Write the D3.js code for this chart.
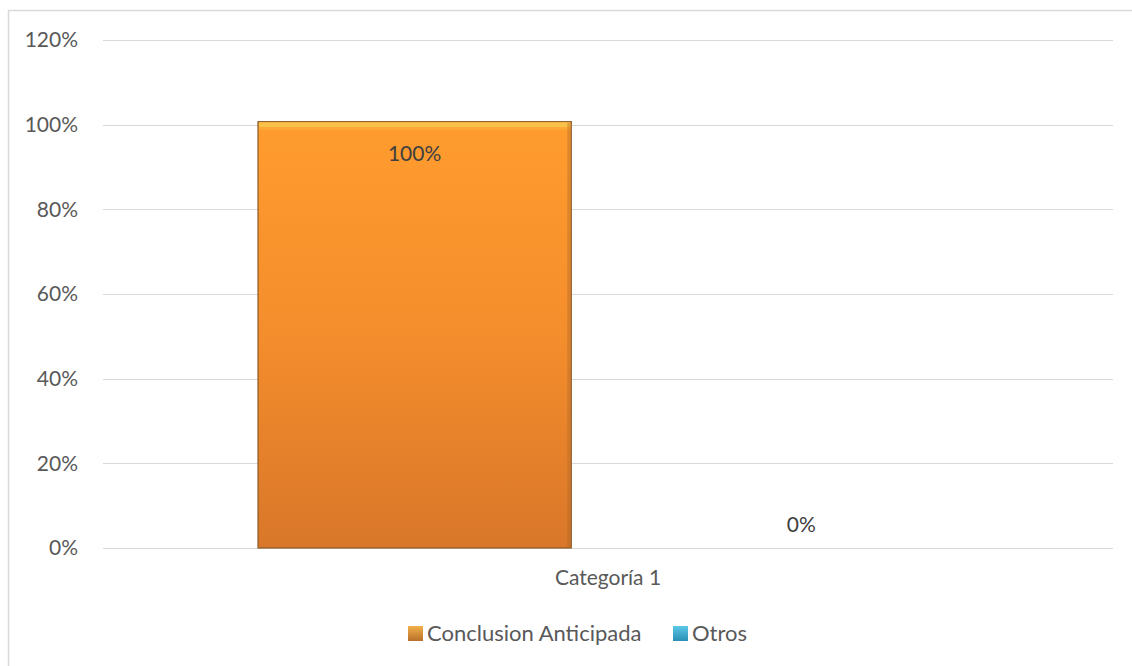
<!DOCTYPE html>
<html>
<head>
<meta charset="utf-8">
<script src="https://cdn.jsdelivr.net/npm/d3@7"></script>
<style>
  html, body { margin: 0; padding: 0; background: #fff; }
  svg { display: block; font-family: Lato, "Open Sans", sans-serif; }
</style>
</head>
<body>
<svg id="chart" width="1132" height="666"></svg>
<script>
// Chart data
const categories = ["Categoría 1"];
const seriesNames = ["Conclusion Anticipada", "Otros"];
const seriesValues = [[1.00], [0.00]];
const yTicks = [0, 0.2, 0.4, 0.6, 0.8, 1.0, 1.2];

const svg = d3.select("#chart");
const W = 1132, H = 666;
const FS = 21;
const margin = { left: 103, right: 19, top: 40, bottom: 118 };
const plotW = W - margin.left - margin.right;
const plotH = H - margin.top - margin.bottom;

const defs = svg.append("defs");
const orange = defs.append("linearGradient").attr("id", "gOrange")
  .attr("x1", 0).attr("y1", 0).attr("x2", 0).attr("y2", 1);
orange.append("stop").attr("offset", "0%").attr("stop-color", "#ff9c2e");
orange.append("stop").attr("offset", "50%").attr("stop-color", "#f48d2c");
orange.append("stop").attr("offset", "100%").attr("stop-color", "#d9772a");
const blue = defs.append("linearGradient").attr("id", "gBlue")
  .attr("x1", 0).attr("y1", 0).attr("x2", 0).attr("y2", 1);
blue.append("stop").attr("offset", "0%").attr("stop-color", "#5cc7e6");
blue.append("stop").attr("offset", "100%").attr("stop-color", "#2a8fb5");
const sw1 = defs.append("linearGradient").attr("id", "gSw1")
  .attr("x1", 0).attr("y1", 0).attr("x2", 0).attr("y2", 1);
sw1.append("stop").attr("offset", "0%").attr("stop-color", "#f2b04a");
sw1.append("stop").attr("offset", "100%").attr("stop-color", "#b8702a");
const fills = ["url(#gOrange)", "url(#gBlue)"];
const swatchFills = ["url(#gSw1)", "url(#gBlue)"];

// Outer chart frame (left and top edges visible)
svg.append("line").attr("x1", 8.5).attr("x2", 8.5).attr("y1", 10).attr("y2", H)
  .attr("stroke", "#d9d9d9").attr("stroke-width", 1.5);
svg.append("line").attr("x1", 8).attr("x2", W).attr("y1", 10.5).attr("y2", 10.5)
  .attr("stroke", "#d9d9d9").attr("stroke-width", 1.5);

const g = svg.append("g").attr("transform", `translate(${margin.left},${margin.top})`);

const y = d3.scaleLinear().domain([0, 1.2]).range([plotH, 0]);
const x0 = d3.scaleBand().domain(categories).range([0, plotW]).paddingInner(0).paddingOuter(0);
const x1 = d3.scaleBand().domain(seriesNames).range([155, x0.bandwidth() - 155]).paddingInner(0.19).paddingOuter(0);

// Gridlines
g.append("g").selectAll("line").data(yTicks).join("line")
  .attr("x1", 0).attr("x2", plotW)
  .attr("y1", d => Math.round(y(d)) + 0.5).attr("y2", d => Math.round(y(d)) + 0.5)
  .attr("stroke", "#d9d9d9").attr("stroke-width", 1.2);

// Y axis labels
const yAxis = d3.axisLeft(y).tickValues(yTicks).tickFormat(d3.format(".0%")).tickSize(0).tickPadding(25);
const ya = g.append("g").call(yAxis);
ya.select(".domain").remove();
ya.selectAll("text").attr("font-size", FS).attr("fill", "#595959")
  .attr("font-family", "Lato, 'Open Sans', sans-serif");

// Bars
const rows = categories.flatMap((c, ci) => seriesNames.map((s, si) => ({ c, s, si, v: seriesValues[si][ci] })));
const bars = g.append("g").selectAll("g").data(rows).join("g")
  .attr("transform", d => `translate(${x0(d.c) + x1(d.s)},0)`);

bars.filter(d => d.v > 0).each(function (d) {
  const sel = d3.select(this);
  const bw = x1.bandwidth();
  const top = y(d.v) - 3, bot = y(0);
  sel.append("rect").attr("x", 0).attr("y", top).attr("width", bw).attr("height", bot - top)
    .attr("fill", fills[d.si]).attr("stroke", "#8a5a2a").attr("stroke-width", 1.2);
  // top bevel highlight
  sel.append("rect").attr("x", 1).attr("y", top + 0.5).attr("width", bw - 2).attr("height", 5)
    .attr("fill", "#f8c54c").attr("opacity", 0.9);
  sel.append("rect").attr("x", 1).attr("y", top + 5.5).attr("width", bw - 2).attr("height", 3)
    .attr("fill", "#fbb03a").attr("opacity", 0.6);
  // right edge shade
  sel.append("rect").attr("x", bw - 4).attr("y", top + 1).attr("width", 3).attr("height", bot - top - 2)
    .attr("fill", "#a86424").attr("opacity", 0.35);
});

// Value labels
bars.append("text")
  .attr("x", x1.bandwidth() / 2)
  .attr("y", d => d.v > 0 ? y(d.v) + 36 : y(d.v) - 16)
  .attr("text-anchor", "middle").attr("font-size", FS).attr("fill", "#404040")
  .text(d => d3.format(".0%")(d.v));

// Category axis label
g.append("g").selectAll("text").data(categories).join("text")
  .attr("x", d => x0(d) + x0.bandwidth() / 2).attr("y", plotH + 37)
  .attr("text-anchor", "middle").attr("font-size", FS).attr("fill", "#595959")
  .text(d => d);

// Legend
const legend = svg.append("g").attr("transform", "translate(408,633)");
const lx = [0, 265];
const li = legend.selectAll("g").data(seriesNames).join("g")
  .attr("transform", (d, i) => `translate(${lx[i]},0)`);
li.append("rect").attr("x", 0).attr("y", -7).attr("width", 15).attr("height", 15)
  .attr("fill", (d, i) => swatchFills[i]);
li.append("text").attr("x", 19).attr("y", 8).attr("font-size", 22).attr("fill", "#595959").text(d => d);
</script>
</body>
</html>
